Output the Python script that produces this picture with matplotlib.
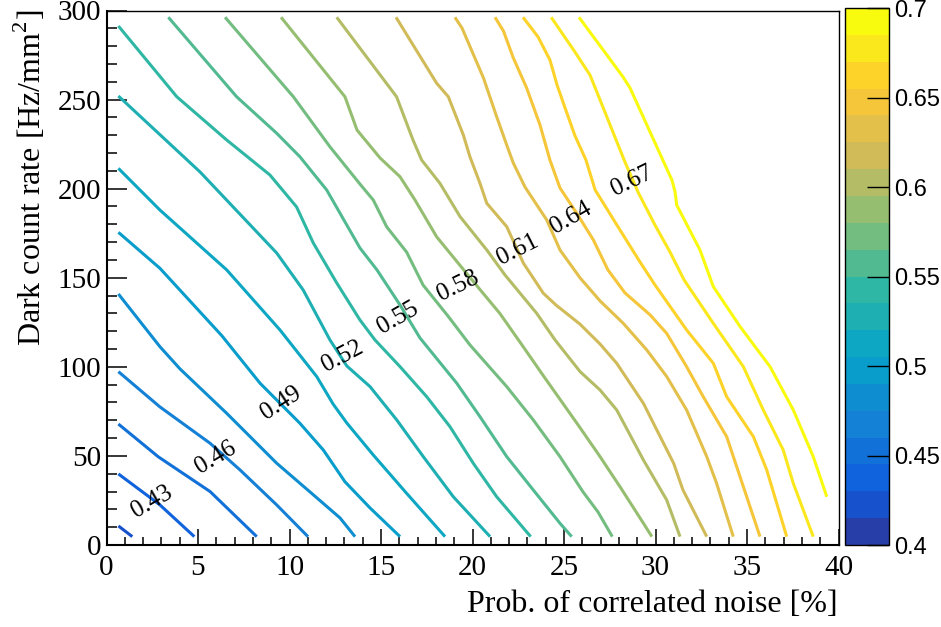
import matplotlib
matplotlib.use("Agg")
import matplotlib.pyplot as plt
from matplotlib.colors import LinearSegmentedColormap, ListedColormap, BoundaryNorm
from matplotlib.cm import ScalarMappable
from matplotlib.ticker import MultipleLocator, FormatStrFormatter

plt.rcParams["font.family"] = ["Liberation Serif", "DejaVu Serif"]
plt.rcParams["mathtext.fontset"] = "custom"
plt.rcParams["mathtext.rm"] = "Liberation Serif"

# ------------------------------------------------------------------
# Colour scale: 20 bands between 0.4 and 0.7
# ------------------------------------------------------------------
band_edges = [0.400, 0.415, 0.430, 0.445, 0.460, 0.475, 0.490, 0.505, 0.520, 0.535,
              0.550, 0.565, 0.580, 0.595, 0.610, 0.625, 0.640, 0.655, 0.670, 0.685, 0.700]
cbar_ticks = [0.40, 0.45, 0.50, 0.55, 0.60, 0.65, 0.70]

# ------------------------------------------------------------------
# Contour lines (x = corr. noise [%], y = DCR [Hz/mm2])
# ------------------------------------------------------------------
levels = [0.415, 0.430, 0.445, 0.460, 0.475, 0.490, 0.505, 0.520, 0.535, 0.550,
          0.565, 0.580, 0.595, 0.610, 0.625, 0.640, 0.655, 0.670, 0.685]

x_0415 = [0.65, 1.41]
y_0415 = [10.7, 4.7]
x_0430 = [0.65, 2.92, 4.80]
y_0430 = [39.9, 22.5, 4.7]
x_0445 = [0.65, 2.83, 5.66, 8.21]
y_0445 = [67.9, 49.5, 30.0, 4.7]
x_0460 = [0.65, 2.92, 5.66, 7.30, 9.30, 11.01]
y_0460 = [97.3, 77.5, 57.1, 42.1, 22.5, 4.7]
x_0475 = [0.65, 2.92, 4.02, 6.57, 9.30, 11.49, 12.76, 13.58]
y_0475 = [140.9, 111.3, 98.8, 73.9, 45.9, 26.5, 15.2, 4.7]
x_0490 = [0.65, 2.92, 6.30, 8.39, 10.57, 11.85, 13.03, 14.40, 16.04]
y_0490 = [175.5, 155.3, 117.5, 90.8, 68.3, 53.3, 35.5, 20.8, 4.7]
x_0505 = [0.65, 2.92, 6.57, 9.48, 11.49, 12.39, 13.13, 14.58, 16.40, 18.50]
y_0505 = [211.4, 188.0, 154.4, 120.7, 94.5, 79.0, 68.5, 50.5, 29.0, 4.7]
x_0520 = [0.65, 5.11, 9.30, 10.75, 12.21, 13.13, 14.40, 15.86, 17.31, 18.95, 20.96]
y_0520 = [252.0, 209.4, 163.9, 143.1, 115.1, 100.5, 88.9, 70.2, 49.6, 27.1, 4.7]
x_0535 = [0.65, 3.84, 6.57, 8.93, 10.39, 11.30, 12.58, 13.85, 14.67, 16.04, 17.50,
          18.77, 20.04, 21.32, 23.18]
y_0535 = [291.3, 251.6, 227.3, 207.7, 189.7, 169.5, 147.1, 126.3, 115.1, 100.1, 83.2,
          66.4, 45.9, 27.1, 4.7]
x_0550 = [3.38, 7.11, 9.30, 10.57, 12.03, 13.85, 14.78, 16.04, 17.13, 19.14, 20.41,
          21.87, 23.32, 24.78, 25.42]
y_0550 = [296.2, 251.6, 231.1, 217.9, 199.3, 166.7, 154.4, 134.7, 116.2, 90.8, 72.0,
          49.6, 30.9, 12.2, 4.7]
x_0565 = [6.48, 10.21, 12.21, 13.85, 14.58, 15.31, 16.40, 17.30, 18.66, 19.86, 21.87,
          23.32, 24.78, 26.04, 26.86, 27.64]
y_0565 = [296.2, 251.6, 223.5, 202.6, 193.6, 178.6, 164.4, 145.9, 128.5, 112.3, 88.9,
          70.2, 49.6, 29.8, 18.5, 4.7]
x_0580 = [9.54, 13.03, 13.69, 14.95, 16.04, 16.86, 18.04, 19.68, 21.50, 22.60, 23.96,
          25.77, 26.97, 28.06, 29.34, 29.80]
y_0580 = [296.2, 251.6, 232.9, 217.2, 206.7, 193.6, 173.0, 152.4, 129.9, 113.8, 93.7,
          67.4, 49.6, 32.7, 12.2, 4.7]
x_0595 = [12.58, 15.85, 16.75, 17.22, 18.22, 19.32, 20.78, 21.78, 23.51, 24.51,
          25.88, 26.97, 27.88, 29.34, 30.61, 31.34]
y_0595 = [296.2, 251.6, 227.3, 216.1, 203.0, 184.3, 165.6, 151.5, 130.0, 115.1,
          97.3, 87.0, 75.8, 47.7, 25.3, 4.7]
x_0610 = [15.82, 18.04, 18.68, 19.50, 19.86, 20.41, 20.78, 21.87, 22.78, 23.87, 24.56,
          25.87, 26.97, 27.88, 29.34, 30.07, 30.99, 31.50, 32.80]
y_0610 = [296.2, 259.2, 251.6, 230.1, 217.9, 203.0, 191.8, 178.7, 158.2, 141.3, 134.7,
          124.0, 112.8, 102.0, 79.5, 64.6, 45.9, 30.9, 4.7]
x_0625 = [19.04, 19.43, 20.60, 21.32, 21.87, 22.23, 22.87, 24.06, 24.78, 25.88, 26.97,
          28.24, 29.52, 30.61, 31.70, 32.80, 33.34, 34.25]
y_0625 = [296.2, 290.1, 262.1, 240.4, 224.5, 214.4, 200.9, 182.4, 165.6, 149.9, 137.0,
          124.4, 109.5, 94.6, 75.8, 49.6, 34.6, 4.7]
x_0640 = [21.23, 21.69, 22.23, 22.96, 23.69, 24.23, 24.78, 25.69, 26.60, 27.40, 28.33,
          29.70, 30.61, 31.70, 32.61, 33.89, 34.62, 35.71]
y_0640 = [296.2, 288.5, 273.4, 256.5, 235.7, 216.1, 200.4, 186.3, 171.3, 154.4, 141.5,
          129.2, 118.8, 100.1, 83.2, 60.8, 38.3, 4.7]
x_0655 = [22.76, 23.58, 24.23, 24.62, 25.00, 25.60, 26.20, 26.70, 27.95, 29.15, 29.97,
          31.70, 33.16, 33.89, 35.35, 36.08, 37.17]
y_0655 = [296.2, 285.2, 272.3, 258.2, 247.0, 229.7, 216.1, 199.3, 178.6, 158.9, 146.0,
          120.7, 102.0, 83.2, 60.8, 42.1, 4.7]
x_0670 = [24.30, 25.60, 26.42, 26.97, 27.70, 28.33, 29.04, 29.97, 30.79, 31.56, 33.16,
          34.80, 35.89, 36.98, 37.53, 38.62]
y_0670 = [296.2, 276.7, 263.8, 249.8, 231.1, 215.0, 198.2, 179.6, 164.5, 148.8, 124.4,
          100.1, 75.8, 53.3, 34.6, 4.7]
x_0685 = [25.82, 28.22, 28.61, 30.90, 31.07, 31.16, 32.43, 33.16, 34.62, 36.26, 37.53,
          38.62, 39.36]
y_0685 = [296.2, 262.8, 256.5, 204.8, 198.1, 190.8, 165.6, 145.0, 122.6, 100.1, 75.8,
          49.6, 27.1]

line_x = [x_0415, x_0430, x_0445, x_0460, x_0475, x_0490, x_0505, x_0520, x_0535, x_0550,
          x_0565, x_0580, x_0595, x_0610, x_0625, x_0640, x_0655, x_0670, x_0685]
line_y = [y_0415, y_0430, y_0445, y_0460, y_0475, y_0490, y_0505, y_0520, y_0535, y_0550,
          y_0565, y_0580, y_0595, y_0610, y_0625, y_0640, y_0655, y_0670, y_0685]

# contour labels: text, anchor (x, y) and angle
label_text = ["0.43", "0.46", "0.49", "0.52", "0.55", "0.58", "0.61", "0.64", "0.67"]
label_x = [2.49, 5.98, 9.54, 12.87, 15.93, 19.21, 22.49, 25.38, 28.72]
label_y = [24.1, 48.8, 79.7, 106.1, 127.4, 145.4, 165.6, 183.5, 204.3]
label_rot = [30, 31, 33, 28, 30, 26, 27, 30, 26]

# ------------------------------------------------------------------
# ROOT "kBird" palette
# ------------------------------------------------------------------
bird_stops = [0.0, 0.125, 0.25, 0.375, 0.5, 0.625, 0.75, 0.875, 1.0]
bird_r = [0.2082, 0.0592, 0.0780, 0.0232, 0.1802, 0.5301, 0.8186, 0.9956, 0.9764]
bird_g = [0.1664, 0.3599, 0.5041, 0.6419, 0.7178, 0.7492, 0.7328, 0.7862, 0.9832]
bird_b = [0.5293, 0.8684, 0.8385, 0.7914, 0.6425, 0.4662, 0.3499, 0.1968, 0.0539]
bird = LinearSegmentedColormap.from_list(
    "bird", list(zip(bird_stops, zip(bird_r, bird_g, bird_b))), N=255)
n_bands = len(band_edges) - 1
band_colors = [bird(int((k + 0.99) * 255 / n_bands) / 254) for k in range(n_bands)]

W, H = 941, 627
fig = plt.figure(figsize=(W / 100, H / 100), dpi=100)
ax = fig.add_axes([106.5 / W, 1 - 545 / H, 732 / W, 534.5 / H])

for lev, xs, ys in zip(levels, line_x, line_y):
    k = band_edges.index(lev)
    ax.plot(xs, ys, color=band_colors[k], lw=2.2, solid_joinstyle="round",
            solid_capstyle="butt")

for txt, lx, ly, rot in zip(label_text, label_x, label_y, label_rot):
    ax.text(lx, ly, txt, rotation=rot, rotation_mode="anchor", ha="center",
            va="center", fontsize=18)

ax.set_xlim(0, 40)
ax.set_ylim(0, 300)
ax.xaxis.set_major_locator(MultipleLocator(5))
ax.xaxis.set_minor_locator(MultipleLocator(1))
ax.yaxis.set_major_locator(MultipleLocator(50))
ax.yaxis.set_minor_locator(MultipleLocator(10))
ax.tick_params(which="both", direction="in", top=False, right=False, width=1.1)
ax.tick_params(axis="x", which="major", length=11.5, labelsize=21, pad=7)
ax.tick_params(axis="x", which="minor", length=5.8)
ax.tick_params(axis="y", which="major", length=14.4, labelsize=21, pad=4)
ax.tick_params(axis="y", which="minor", length=7.2)
for side in ("left", "bottom"):
    ax.spines[side].set_linewidth(1.5)
for side in ("top", "right"):
    ax.spines[side].set_linewidth(1.0)

fig.text(838 / W, 1 - 605 / H, "Prob. of correlated noise [%]", ha="right",
         va="center", fontsize=23)
fig.text(30 / W, 1 - 10 / H, "Dark count rate [Hz/mm$^{2}$]", ha="center",
         va="top", rotation=90, fontsize=23)

# colour bar
cax = fig.add_axes([845 / W, 1 - 545 / H, 44 / W, 537 / H])
sm = ScalarMappable(norm=BoundaryNorm(band_edges, n_bands),
                    cmap=ListedColormap(band_colors))
cb = fig.colorbar(sm, cax=cax, ticks=cbar_ticks, spacing="proportional")
cb.outline.set_linewidth(1.0)
cax.yaxis.set_major_formatter(FormatStrFormatter("%g"))
cax.tick_params(direction="in", length=16, width=1.0, pad=4, labelsize=17)
for t in cax.get_yticklabels():
    t.set_fontfamily(["Liberation Sans", "DejaVu Sans"])
cax.minorticks_off()

fig.savefig("out.png", dpi=100)
